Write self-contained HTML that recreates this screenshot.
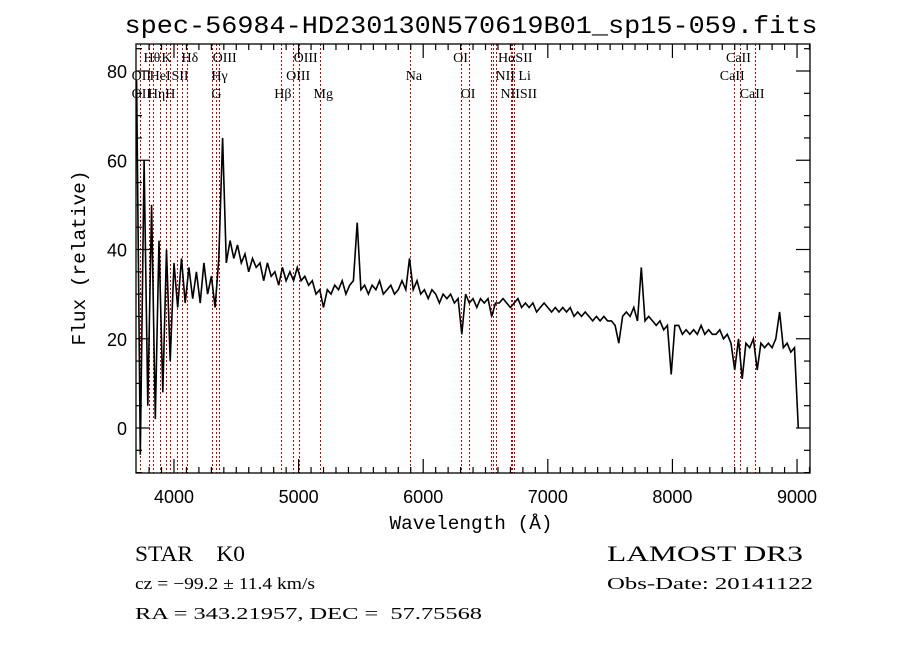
<!DOCTYPE html>
<html><head><meta charset="utf-8"><style>
html,body{margin:0;padding:0;background:#fff;}
svg{display:block;}
text{white-space:pre;}
</style></head>
<body>
<svg id="chart" width="900" height="649" viewBox="0 0 900 649" xmlns="http://www.w3.org/2000/svg" xml:space="preserve">
<rect width="900" height="649" fill="#fff"/>
<text x="471" y="33" text-anchor="middle" font-family="Liberation Mono, monospace" font-size="25" textLength="693" lengthAdjust="spacingAndGlyphs">spec-56984-HD230130N570619B01_sp15-059.fits</text>
<g id="lines"></g>
<g id="labels" font-family="Liberation Serif, serif" font-size="14"></g>
<path id="spec" fill="none" stroke="#000" stroke-width="1.6" stroke-linejoin="miter"/>
<g id="axes"></g>
<text x="471" y="529" text-anchor="middle" font-family="Liberation Mono, monospace" font-size="19" textLength="163" lengthAdjust="spacingAndGlyphs">Wavelength (Å)</text>
<text transform="translate(85,258) rotate(-90)" text-anchor="middle" font-family="Liberation Mono, monospace" font-size="19" textLength="175" lengthAdjust="spacingAndGlyphs">Flux (relative)</text>
<g font-family="Liberation Serif, serif">
<text x="135" y="561" font-size="22" textLength="110" lengthAdjust="spacingAndGlyphs">STAR    K0</text>
<text x="135" y="589" font-size="17" textLength="180" lengthAdjust="spacingAndGlyphs">cz = −99.2 ± 11.4 km/s</text>
<text x="135" y="619" font-size="17" textLength="347" lengthAdjust="spacingAndGlyphs">RA = 343.21957, DEC =  57.75568</text>
<text x="607" y="561" font-size="22" textLength="196" lengthAdjust="spacingAndGlyphs">LAMOST DR3</text>
<text x="607" y="589" font-size="17" textLength="206" lengthAdjust="spacingAndGlyphs">Obs-Date: 20141122</text>
</g>
</svg>
<script>
const startWave = 3700;
const stepWave = 30;
const flux = [78,-6,60,5,50,2,42,8,40,15,37,27,38,28,36,29,35,28,37,30,34,27,38,65,37,42,38,41,37,39,35,38,36,37,33,37,34,35,32,36,33,35,33,36,33,34,32,33,30,31,27,31,30,32,31,33,30,32,33,46,31,32,30,32,31,33,30,31,32,30,31,33,31,38,31,33,30,31,29,31,30,28,30,29,30,28,29,21,30,28,29,27,29,28,29,25,28,28,29,28,27,28,29,27,28,27,28,26,27,28,27,26,27,26,27,26,27,25,26,25,26,25,24,25,24,25,24,24,23,19,25,26,25,27,24,36,24,25,24,23,24,22,23,12,23,23,21,22,21,22,21,23,21,22,21,21,22,20,21,19,13,20,11,19,18,20,13,19,18,19,18,20,26,18,19,17,18,0];
const lineWaves = [3727,3798,3835,3889,3934,3968,4026,4068,4102,4304,4340,4363,4861,4959,5007,5175,5893,6300,6364,6548,6563,6583,6708,6716,6731,8498,8542,8662];
const labelText = ["Hθ","K","Hδ","OIII","OIII","OI","HαSII","CaII","OII","HeI","SII","Hγ","OIII","Na","NII Li","CaII","OII","Hη","H","G","Hβ","Mg","OI","NIISII","CaII"];
const labelWave = [3755,3900,4060,4310,4960,6240,6600,8430,3660,3805,3980,4300,4900,5860,6580,8380,3660,3790,3930,4300,4805,5120,6300,6620,8540];
const labelRow = [0,0,0,0,0,0,0,0,1,1,1,1,1,1,1,1,2,2,2,2,2,2,2,2,2];
const xTicks = [4000,5000,6000,7000,8000,9000];
const yTicks = [0,20,40,60,80];

const L=136,R=810,T=44,B=473;
const X = w => 136.6 + (w-3700)*0.12461;
const Y = v => 428 - v*4.4625;
const NS='http://www.w3.org/2000/svg';
function mk(tag, parent){const e=document.createElementNS(NS,tag);parent.appendChild(e);return e;}

let d='';
flux.forEach((v,i)=>{const x=X(startWave+i*stepWave),y=Math.max(T,Math.min(B,Y(v)));d+=(i?'L':'M')+x.toFixed(1)+' '+y.toFixed(1);});
document.getElementById('spec').setAttribute('d',d);

const lg=document.getElementById('lines');
lineWaves.forEach(w=>{const l=mk('line',lg);


const x=Math.round(X(w))+0.5;
l.setAttribute('x1',x);l.setAttribute('x2',x);l.setAttribute('y1',T);l.setAttribute('y2',B);
l.setAttribute('stroke','#c00000');l.setAttribute('stroke-width','1');l.setAttribute('stroke-dasharray','2,2');});

const lb=document.getElementById('labels');
labelText.forEach((t,i)=>{const e=mk('text',lb);


e.setAttribute('x',X(labelWave[i]));e.setAttribute('y',62+labelRow[i]*18);e.textContent=t;});

const ax=document.getElementById('axes');
const fr=mk('rect',ax);


fr.setAttribute('x',L);fr.setAttribute('y',T);fr.setAttribute('width',R-L);fr.setAttribute('height',B-T);fr.setAttribute('fill','none');fr.setAttribute('stroke','#000');fr.setAttribute('stroke-width','1.3');
function tick(x1,y1,x2,y2){const l=mk('line',ax);l.setAttribute('x1',x1);l.setAttribute('y1',y1);l.setAttribute('x2',x2);l.setAttribute('y2',y2);l.setAttribute('stroke','#000');l.setAttribute('stroke-width','1.2');}
for(let w=3800;w<=9100;w+=100){const x=X(w);const big=w%1000===0;const s=big?14:6;tick(x,B,x,B-s);tick(x,T,x,T+s);}
for(let v=-10;v<=85;v+=5){const y=Y(v);const big=v%20===0;const s=big?14:6;tick(L,y,L+s,y);tick(R,y,R-s,y);}
xTicks.forEach(w=>{const e=mk('text',ax);


e.setAttribute('x',X(w));e.setAttribute('y',503);e.setAttribute('text-anchor','middle');e.setAttribute('font-family','Liberation Sans, sans-serif');e.setAttribute('font-size','18');e.textContent=w;});
yTicks.forEach(v=>{const e=mk('text',ax);


e.setAttribute('x',127);e.setAttribute('y',Y(v)+7);e.setAttribute('text-anchor','end');e.setAttribute('font-family','Liberation Sans, sans-serif');e.setAttribute('font-size','18');e.textContent=v;});
</script>
</body></html>
